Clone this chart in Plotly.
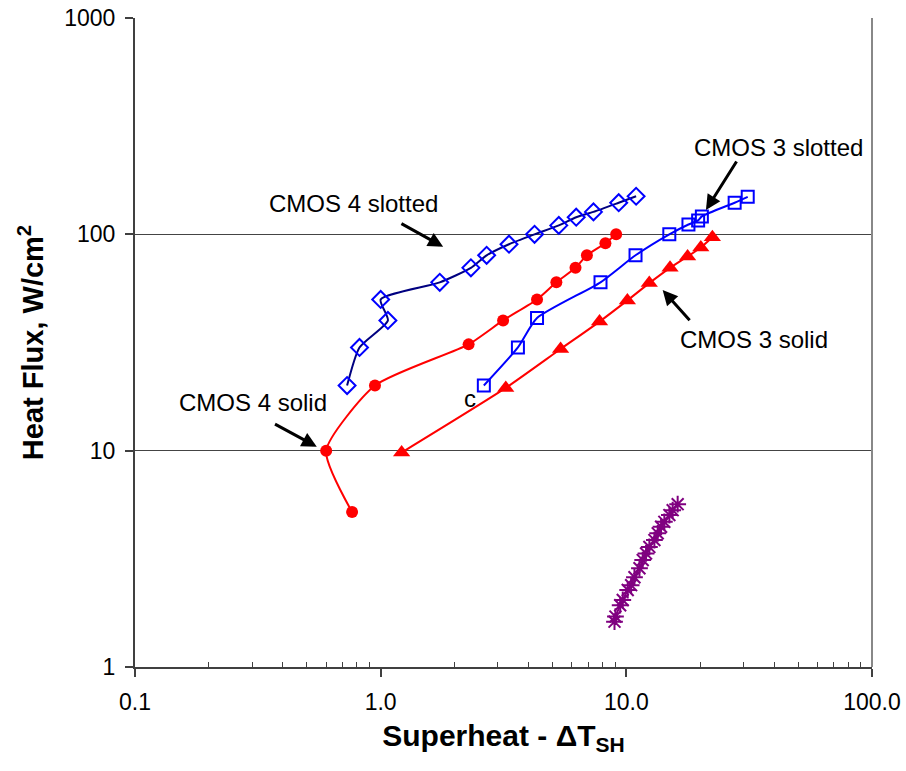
import plotly.graph_objects as go

# ---- data ----
cmos4_slotted_x = [0.73, 0.82, 1.07, 1.0, 1.74, 2.33, 2.70, 3.33, 4.23, 5.31, 6.25, 7.35, 9.31, 10.96]
cmos4_slotted_y = [20, 30, 40, 50, 60, 70, 80, 90, 100, 110, 120, 127, 140, 150]

cmos4_solid_x = [0.765, 0.60, 0.948, 2.28, 3.15, 4.33, 5.19, 6.21, 6.91, 8.22, 9.09]
cmos4_solid_y = [5.2, 10, 20, 31, 40, 50, 60, 70, 80, 91, 100]

cmos3_slotted_x = [2.63, 3.62, 4.33, 7.85, 10.9, 14.96, 17.9, 19.6, 20.3, 27.6, 31.2]
cmos3_slotted_y = [20, 30, 41, 60, 80, 100, 111, 116, 121, 140, 149]

cmos3_solid_x = [1.217, 3.23, 5.40, 7.78, 10.1, 12.4, 15.06, 17.76, 20.1, 22.4]
cmos3_solid_y = [9.8, 19.5, 29.5, 39.5, 49.5, 59.5, 70, 79, 87, 97]

c_series_x = [8.95, 9.03, 9.44, 9.67, 10.13, 10.46, 10.79, 11.31, 11.66, 12.03, 12.41, 13.01, 13.42, 13.85, 14.28, 14.97, 15.44, 16.18]
c_series_y = [1.62, 1.71, 1.93, 2.04, 2.27, 2.39, 2.60, 2.86, 3.12, 3.35, 3.59, 3.86, 4.15, 4.45, 4.69, 5.04, 5.31, 5.66]

x_tick_vals = [0.1, 1, 10, 100]
x_tick_text = ["0.1", "1.0", "10.0", "100.0"]
y_tick_vals = [1, 10, 100, 1000]
y_tick_text = ["1", "10", "100", "1000"]

FONT = "Liberation Sans, Arial, sans-serif"

fig = go.Figure()

fig.add_trace(go.Scatter(
    x=cmos4_slotted_x, y=cmos4_slotted_y, mode="lines+markers", name="CMOS 4 slotted",
    line=dict(color="#000080", width=2, shape="spline", smoothing=0.6),
    marker=dict(symbol="diamond-open", size=13, color="#0000FF", line=dict(color="#0000FF", width=2)),
))
fig.add_trace(go.Scatter(
    x=cmos4_solid_x, y=cmos4_solid_y, mode="lines+markers", name="CMOS 4 solid",
    line=dict(color="#FF0000", width=2, shape="spline", smoothing=0.6),
    marker=dict(symbol="circle", size=12, color="#FF0000"),
))
fig.add_trace(go.Scatter(
    x=cmos3_slotted_x, y=cmos3_slotted_y, mode="lines+markers", name="CMOS 3 slotted",
    line=dict(color="#0000FF", width=2, shape="spline", smoothing=0.6),
    marker=dict(symbol="square-open", size=12, color="#0000FF", line=dict(color="#0000FF", width=2)),
))
fig.add_trace(go.Scatter(
    x=cmos3_solid_x, y=cmos3_solid_y, mode="lines+markers", name="CMOS 3 solid",
    line=dict(color="#FF0000", width=2, shape="spline", smoothing=0.6),
    marker=dict(symbol="triangle-up", size=15, color="#FF0000"),
))
fig.add_trace(go.Scatter(
    x=c_series_x, y=c_series_y, mode="lines+markers", name="c",
    line=dict(color="#800080", width=2),
    marker=dict(symbol="asterisk-open", size=14, color="#800080", line=dict(color="#800080", width=2)),
))

minor_x = [m * 10 ** e for e in (-1, 0, 1) for m in range(2, 10)]

fig.update_xaxes(
    type="log", range=[-1, 2], automargin=False,
    tickvals=x_tick_vals, ticktext=x_tick_text,
    ticks="outside", ticklen=8, tickwidth=1.5, tickcolor="#404040",
    minor=dict(tickvals=minor_x, ticks="inside", ticklen=5, tickwidth=1, tickcolor="#404040", showgrid=False),
    showline=True, linecolor="#404040", linewidth=2,
    showgrid=False, zeroline=False,
    tickfont=dict(family=FONT, size=23, color="#000000"),
    ticklabelstandoff=5,
    title=dict(text="Superheat - ΔT<sub>SH</sub>", font=dict(family=FONT, size=30, color="#000000", weight="bold"), standoff=11),
)
fig.update_yaxes(
    type="log", range=[0, 3], automargin=False,
    tickvals=y_tick_vals, ticktext=y_tick_text,
    ticks="outside", ticklen=8, tickwidth=1.5, tickcolor="#404040",
    showline=True, linecolor="#404040", linewidth=2,
    showgrid=True, gridcolor="#444444", gridwidth=1, zeroline=False,
    tickfont=dict(family=FONT, size=23, color="#000000"),
    ticklabelstandoff=5,
    title=dict(text="Heat Flux, W/cm<sup>2</sup>", font=dict(family=FONT, size=29, color="#000000", weight="bold"), standoff=12),
)

# right border of plot area
fig.add_shape(type="line", xref="x domain", yref="y domain", x0=1, x1=1, y0=0, y1=1,
              line=dict(color="#888888", width=2))

labels = [
    ("CMOS 4 slotted", -0.1113, 2.1447),
    ("CMOS 4 solid", -0.5187, 1.2224),
    ("CMOS 3 slotted", 1.6198, 2.4013),
    ("CMOS 3 solid", 1.5203, 1.516),
    ("c", 0.3627, 1.2432),
]
for txt, lx, ly in labels:
    fig.add_annotation(x=lx, y=ly, xref="x", yref="y", text=txt, showarrow=False,
                       font=dict(family=FONT, size=24, color="#000000"))

arrows = [
    (0.0784, 2.0536, 0.2543, 1.9427),
    (-0.4362, 1.1262, -0.26, 1.018),
    (1.4525, 2.3435, 1.3241, 2.1124),
    (1.2632, 1.596, 1.1478, 1.7425),
]
for tx, ty, hx, hy in arrows:
    fig.add_annotation(x=hx, y=hy, ax=tx, ay=ty, xref="x", yref="y", axref="x", ayref="y",
                       text="", showarrow=True, arrowhead=2, arrowsize=1, arrowwidth=3,
                       arrowcolor="#000000", standoff=0)

fig.update_layout(
    width=906, height=771,
    margin=dict(l=135, r=34, t=18, b=104),
    paper_bgcolor="white", plot_bgcolor="white",
    showlegend=False,
    font=dict(family=FONT, color="#000000"),
)

fig.write_html("out.html", config={"displayModeBar": False},
               post_script="document.body.style.margin='0px';")
